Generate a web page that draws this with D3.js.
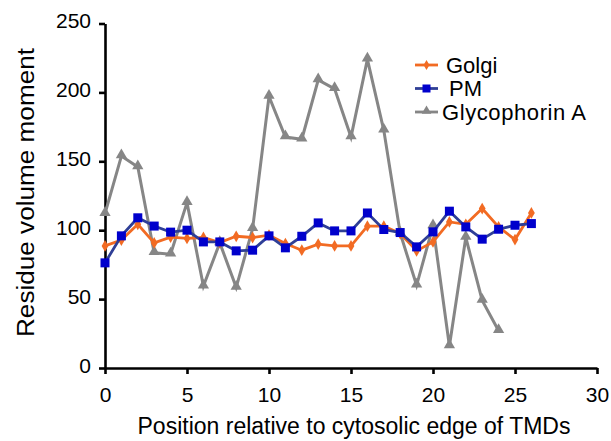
<!DOCTYPE html>
<html>
<head>
<meta charset="utf-8">
<script src="https://cdn.jsdelivr.net/npm/d3@7"></script>
<style>
  body { margin: 0; background: #fff; }
  text { font-family: "Liberation Sans", Arial, sans-serif; fill: #000; }
</style>
</head>
<body>
<div id="chart"></div>
<script>
// values
var positions = d3.range(0, 27);
var golgi = [88.6, 92.8, 104.3, 90.8, 95, 94, 94.7, 91, 95.6, 94.7, 96.4, 90.3, 85.5, 89.9, 88.6, 88.6,
  102.9, 102.9, 97.6, 85, 91.5, 106, 104.3, 115.7, 102.4, 93.2, 112.5];
var pm = [76.3, 95.9, 109, 103, 98.6, 100, 91.5, 91.5, 85, 85.5, 95.9, 87.2, 95.6, 105.3, 99.5, 99.5,
  112.5, 100.5, 98.3, 87.9, 98.8, 113.8, 102.4, 93.5, 100.7, 103.6, 104.8];
var glyA = [112, 153.8, 145.9, 83.6, 82.6, 120, 59.4, 90.8, 58.5, 101, 197, 167.6, 166, 209, 202.6, 167.6,
  224, 172.5, 97.8, 60, 103, 16, 94.7, 49, 27];
var xTicks = [0, 5, 10, 15, 20, 25, 30];
var yTicks = [0, 50, 100, 150, 200, 250];
var seriesNames = ['Golgi', 'PM', 'Glycophorin A'];

var width = 611, height = 441;

var svg = d3.select('#chart').append('svg')
  .attr('width', width)
  .attr('height', height);

var x = d3.scaleLinear().domain([0, 30]).range([105, 597]);
var y = d3.scaleLinear().domain([0, 250]).range([368, 23.5]);

// axes
var xAxis = svg.append('g')
  .attr('transform', 'translate(0,' + y(0) + ')')
  .call(d3.axisBottom(x).tickValues(xTicks).tickSize(6).tickPadding(9).tickSizeOuter(0));
var yAxis = svg.append('g')
  .attr('transform', 'translate(' + x(0) + ',0)')
  .call(d3.axisLeft(y).tickValues(yTicks).tickSize(6).tickPadding(9).tickSizeOuter(0));

[xAxis, yAxis].forEach(function(a) {
  a.select('.domain').attr('stroke', '#000').attr('stroke-width', 2.6);
  a.selectAll('.tick line').attr('stroke', '#000').attr('stroke-width', 2.6);
  a.selectAll('.tick text').style('font-size', '21px')
    .style('font-family', '"Liberation Sans", Arial, sans-serif').attr('fill', '#000');
});
yAxis.selectAll('.tick text').attr('dy', '0.2em').attr('x', -14);
xAxis.selectAll('.tick text').attr('dy', '0.9em');

// axis titles
svg.append('text')
  .attr('x', 354).attr('y', 434)
  .attr('text-anchor', 'middle')
  .style('font-size', '23px')
  .text('Position relative to cytosolic edge of TMDs');
svg.append('text')
  .attr('transform', 'translate(34,192.5) rotate(-90)')
  .attr('text-anchor', 'middle')
  .style('font-size', '23px')
  .attr('textLength', 289).attr('lengthAdjust', 'spacingAndGlyphs')
  .text('Residue volume moment');

var line = d3.line()
  .x(function(d, i) { return x(positions[i]); })
  .y(function(d) { return y(d); });

var diamond = d3.symbol().type(d3.symbolDiamond);
var triangle = d3.symbol().type(d3.symbolTriangle);

// Glycophorin A (drawn first, below the others)
svg.append('path').datum(glyA)
  .attr('d', line).attr('fill', 'none')
  .attr('stroke', '#868686').attr('stroke-width', 3);
svg.selectAll('.tri').data(glyA).enter().append('path')
  .attr('class', 'tri')
  .attr('transform', function(d, i) { return 'translate(' + x(positions[i]) + ',' + (y(d) - 1) + ')'; })
  .attr('d', triangle.size(55))
  .attr('fill', '#868686');

// Golgi
svg.append('path').datum(golgi)
  .attr('d', line).attr('fill', 'none')
  .attr('stroke', '#F26B23').attr('stroke-width', 2.8);
svg.selectAll('.dia').data(golgi).enter().append('path')
  .attr('class', 'dia')
  .attr('transform', function(d, i) { return 'translate(' + x(positions[i]) + ',' + y(d) + ')'; })
  .attr('d', diamond.size(40))
  .attr('fill', '#F26B23');

// PM
svg.append('path').datum(pm)
  .attr('d', line).attr('fill', 'none')
  .attr('stroke', '#2F3F96').attr('stroke-width', 2.8);
svg.selectAll('.sq').data(pm).enter().append('rect')
  .attr('class', 'sq')
  .attr('x', function(d, i) { return x(positions[i]) - 4.5; })
  .attr('y', function(d) { return y(d) - 4.5; })
  .attr('width', 9).attr('height', 9)
  .attr('fill', '#0000CC');

// legend
var legendColors = ['#F26B23', '#2F3F96', '#868686'];
var legend = svg.selectAll('.legend').data(seriesNames).enter().append('g')
  .attr('class', 'legend')
  .attr('transform', function(d, i) { return 'translate(415,' + (65 + i * 23.5) + ')'; });
legend.append('line')
  .attr('x1', 0).attr('x2', 23).attr('y1', 0).attr('y2', 0)
  .attr('stroke', function(d, i) { return legendColors[i]; })
  .attr('stroke-width', 2.8);
legend.each(function(d, i) {
  var g = d3.select(this);
  if (i === 0) {
    g.append('path').attr('transform', 'translate(11.5,0)').attr('d', diamond.size(30)).attr('fill', '#F26B23');
  } else if (i === 1) {
    g.append('rect').attr('x', 7.5).attr('y', -4).attr('width', 8).attr('height', 8).attr('fill', '#0000CC');
  } else {
    g.append('path').attr('transform', 'translate(11.5,-1)').attr('d', triangle.size(40)).attr('fill', '#868686');
  }
});
legend.append('text')
  .attr('x', function(d, i) { return [31, 34, 27][i]; })
  .attr('y', 7.5)
  .style('font-size', '22px')
  .attr('textLength', function(d, i) { return [null, null, 144][i]; })
  .text(function(d) { return d; });
</script>
</body>
</html>
